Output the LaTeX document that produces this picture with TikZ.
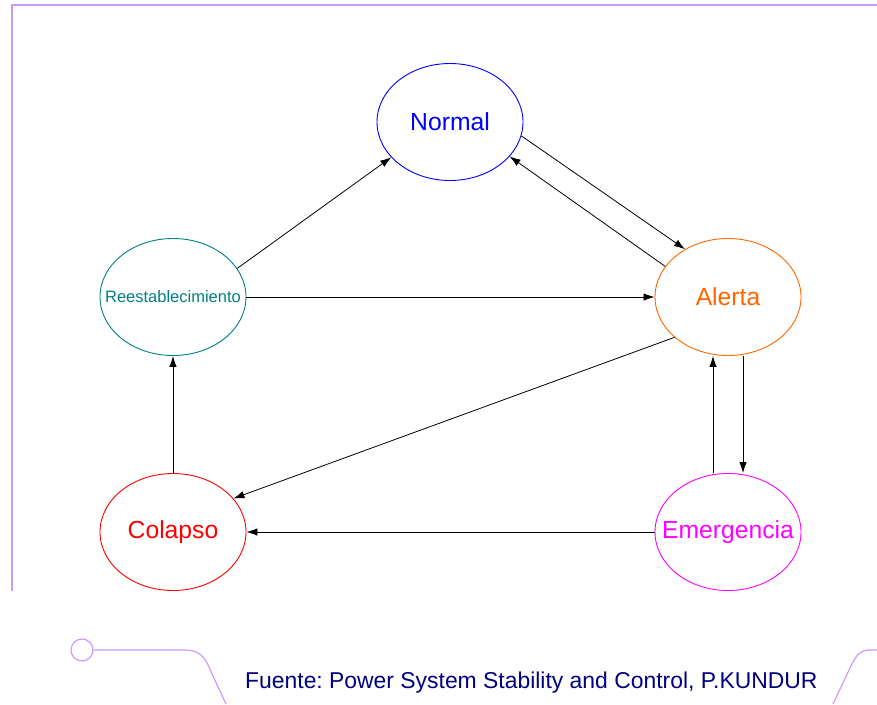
\documentclass[tikz,border=0pt]{standalone}
\usepackage{fontspec}
\setmainfont{Liberation Sans}
\usetikzlibrary{shapes.geometric,arrows.meta}
\definecolor{frame}{RGB}{204,153,255}
\definecolor{cnormal}{RGB}{0,0,255}
\definecolor{calerta}{RGB}{255,102,0}
\definecolor{creest}{RGB}{0,128,128}
\definecolor{ccolapso}{RGB}{255,0,0}
\definecolor{cemerg}{RGB}{255,0,255}
\definecolor{cnavy}{RGB}{0,0,128}
\newcommand{\statetext}[1]{\makebox[0pt]{#1}}
\frenchspacing
\begin{document}
\begin{tikzpicture}[x=1pt,y=-1pt,
  state/.style={ellipse,draw,line width=0.9pt,minimum width=146pt,minimum height=117pt,inner sep=0pt,font=\fontsize{24.7}{28}\selectfont},
  trans/.style={line width=0.8pt,-{Latex[length=11pt,width=7.5pt]}},
  deco/.style={draw=frame,line width=1.2pt}]
\useasboundingbox (0,0) rectangle (877,704);
% page frame
\draw[frame,line width=2pt] (12,591) -- (12,5) -- (877,5);
% footer ornament
\draw[deco] (82,650) circle (11);
\draw[deco] (93,650) -- (184,650) .. controls (203,650) and (206,660) .. (212,674) -- (226,704);
\draw[deco] (877,650) -- (868,650) .. controls (858,651) and (855,658) .. (850,668) -- (833,704);
% states
\node[state,draw=cnormal,text=cnormal] (normal) at (450,122) {\statetext{Normal}};
\node[state,draw=calerta,text=calerta] (alerta) at (728,297) {\statetext{Alerta}};
\node[state,draw=creest,text=creest,font=\fontsize{16.5}{20}\selectfont] (reest) at (173,297) {\statetext{Reestablecimiento}};
\node[state,draw=ccolapso,text=ccolapso] (colapso) at (173,532) {\statetext{Colapso}};
\node[state,draw=cemerg,text=cemerg] (emerg) at (728,532) {\statetext{Emergencia}};
% transitions
\draw[trans] (reest.24.7) -- (normal.211.4);
\draw[trans] (reest) -- (alerta);
\draw[trans] (normal.-11.8) -- (alerta.132.5);
\draw[trans] (alerta.154.5) -- (normal.-30.3);
\draw[trans] (alerta.217.4) -- (colapso.29.8);
\draw[trans] ([xshift=15]alerta.south) -- ([xshift=15]emerg.north);
\draw[trans] ([xshift=-15]emerg.north) -- ([xshift=-15]alerta.south);
\draw[trans] (emerg) -- (colapso);
\draw[trans] (colapso) -- (reest);
% source note
\node[anchor=base west,inner sep=0pt,text=cnavy,font=\fontsize{22.9}{26}\selectfont] (src) at (245,688) {Fuente: Power System Stability and Control, P.KUNDUR};
\end{tikzpicture}
\end{document}
